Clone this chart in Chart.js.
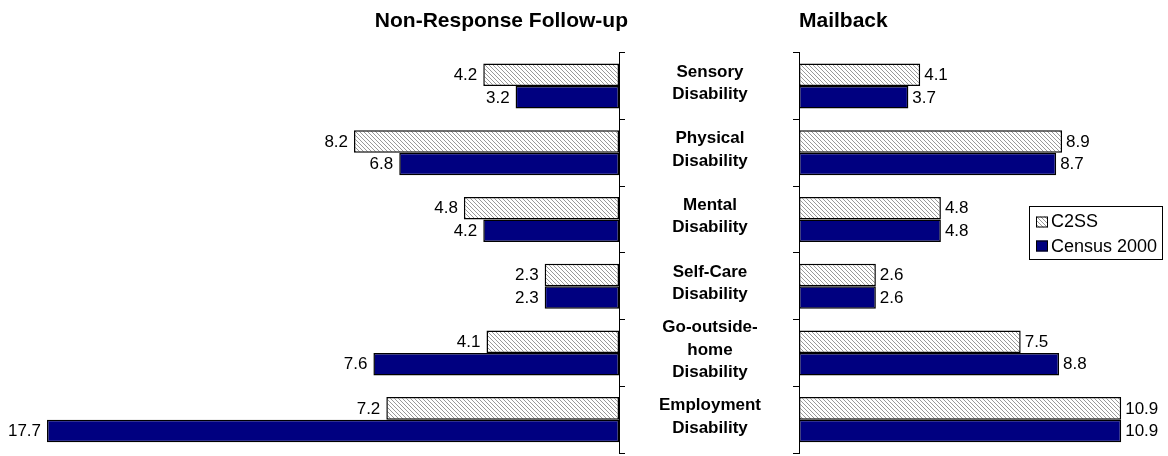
<!DOCTYPE html>
<html>
<head>
<meta charset="utf-8">
<script src="https://cdn.jsdelivr.net/npm/chart.js@4/dist/chart.umd.min.js"></script>
<style>
html,body{margin:0;padding:0;background:#fff;}
#wrap{position:relative;width:1168px;height:456px;overflow:hidden;background:#fff;}
#left{position:absolute;left:0;top:0;}
#right{position:absolute;left:628px;top:0;}
</style>
</head>
<body>
<div id="wrap">
<canvas id="left" width="628" height="456"></canvas>
<canvas id="right" width="540" height="456"></canvas>
</div>
<script>
// ---- data ----
const categories = [
  ["Sensory", "Disability"],
  ["Physical", "Disability"],
  ["Mental", "Disability"],
  ["Self-Care", "Disability"],
  ["Go-outside-", "home", "Disability"],
  ["Employment", "Disability"]
];
const seriesNames = ["C2SS", "Census 2000"];
const panelTitles = ["Non-Response Follow-up", "Mailback"];
const nrfuC2SS   = [4.2, 8.2, 4.8, 2.3, 4.1, 7.2];
const nrfuCensus = [3.2, 6.8, 4.2, 2.3, 7.6, 17.7];
const mailC2SS   = [4.1, 8.9, 4.8, 2.6, 7.5, 10.9];
const mailCensus = [3.7, 8.7, 4.8, 2.6, 8.8, 10.9];

const FONT = '"Liberation Sans", Arial, Helvetica, sans-serif';
Chart.defaults.font.family = FONT;
Chart.defaults.color = '#000';

function hatch(ctx) {
  const c = document.createElement('canvas');
  c.width = 4; c.height = 4;
  const g = c.getContext('2d');
  g.fillStyle = '#ffffff';
  g.fillRect(0, 0, 4, 4);
  g.fillStyle = '#999999';
  for (let i = 0; i < 4; i++) g.fillRect(i, i, 1, 1);
  return ctx.createPattern(c, 'repeat');
}

function valueLabels(isLeft) {
  return {
    id: 'valueLabels',
    afterDatasetsDraw(chart) {
      const ctx = chart.ctx;
      ctx.save();
      ctx.font = '17px ' + FONT;
      ctx.fillStyle = '#000';
      ctx.textBaseline = 'middle';
      ctx.textAlign = isLeft ? 'right' : 'left';
      chart.data.datasets.forEach((ds, i) => {
        chart.getDatasetMeta(i).data.forEach((bar, j) => {
          const v = ds.data[j];
          ctx.fillText(v.toFixed(1), isLeft ? bar.x - 6 : bar.x + 4, bar.y + 0.5);
        });
      });
      ctx.restore();
    }
  };
}

const boxLegend = {
  id: 'boxLegend',
  afterDraw(chart) {
    const ctx = chart.ctx;
    const x0 = 401.5, y0 = 206.5, w = 133, h = 53;
    ctx.save();
    ctx.fillStyle = '#fff';
    ctx.fillRect(x0, y0, w, h);
    ctx.strokeStyle = '#000';
    ctx.lineWidth = 1;
    ctx.strokeRect(x0, y0, w, h);
    ctx.font = '18px ' + FONT;
    ctx.textBaseline = 'alphabetic';
    ctx.textAlign = 'left';
    chart.data.datasets.forEach((ds, i) => {
      const my = 216.5 + i * 24;
      ctx.fillStyle = ds.backgroundColor;
      ctx.fillRect(408, my, 12, 11);
      ctx.strokeStyle = '#000';
      ctx.strokeRect(408.5, my + 0.5, 11, 10);
      ctx.fillStyle = '#000';
      ctx.fillText(ds.label, 423, 227 + i * 24.5);
    });
    ctx.restore();
  }
};

function makeChart(id, c2ss, census, isLeft) {
  const canvas = document.getElementById(id);
  const ctx = canvas.getContext('2d');
  return new Chart(ctx, {
    type: 'bar',
    data: {
      labels: categories,
      datasets: [
        { label: seriesNames[0], data: c2ss, backgroundColor: hatch(ctx), borderColor: '#000',
          borderWidth: 1.5, borderSkipped: false, categoryPercentage: 0.675, barPercentage: 1 },
        { label: seriesNames[1], data: census, backgroundColor: '#000080', borderColor: '#000',
          borderWidth: 1.5, borderSkipped: false, categoryPercentage: 0.675, barPercentage: 1 }
      ]
    },
    options: {
      indexAxis: 'y',
      responsive: false,
      animation: false,
      layout: { padding: isLeft ? { left: 5, right: 0, top: 0, bottom: 3 } : { left: 0, right: 14.3, top: 0, bottom: 3 } },
      plugins: {
        legend: { display: false },
        tooltip: { enabled: false },
        title: {
          display: true,
          text: isLeft ? panelTitles[0] : panelTitles[1],
          align: isLeft ? 'end' : 'start',
          fullSize: isLeft,
          color: '#000',
          font: { size: 21, weight: 'bold', lineHeight: 1.2 },
          padding: { top: 9, bottom: 18.5 }
        }
      },
      scales: {
        x: { display: false, min: 0, max: isLeft ? 19 : 12, reverse: isLeft },
        y: {
          position: isLeft ? 'right' : 'left',
          offset: true,
          grid: { offset: true, drawOnChartArea: false, drawTicks: true, tickLength: 6, color: '#000', lineWidth: 1 },
          border: { display: true, color: '#000', width: 1 },
          ticks: {
            display: !isLeft,
            autoSkip: false,
            color: '#000',
            font: { size: 17, weight: 'bold', lineHeight: 1.32 },
            crossAlign: 'center',
            padding: 32,
            labelOffset: -3
          },
          afterFit(s) {
            s.width = isLeft ? 9 : 171;
            s.paddingTop = 0;
            s.paddingBottom = 0;
          }
        }
      }
    },
    plugins: isLeft ? [valueLabels(true)] : [valueLabels(false), boxLegend]
  });
}

makeChart('left', nrfuC2SS, nrfuCensus, true);
makeChart('right', mailC2SS, mailCensus, false);
</script>
</body>
</html>
